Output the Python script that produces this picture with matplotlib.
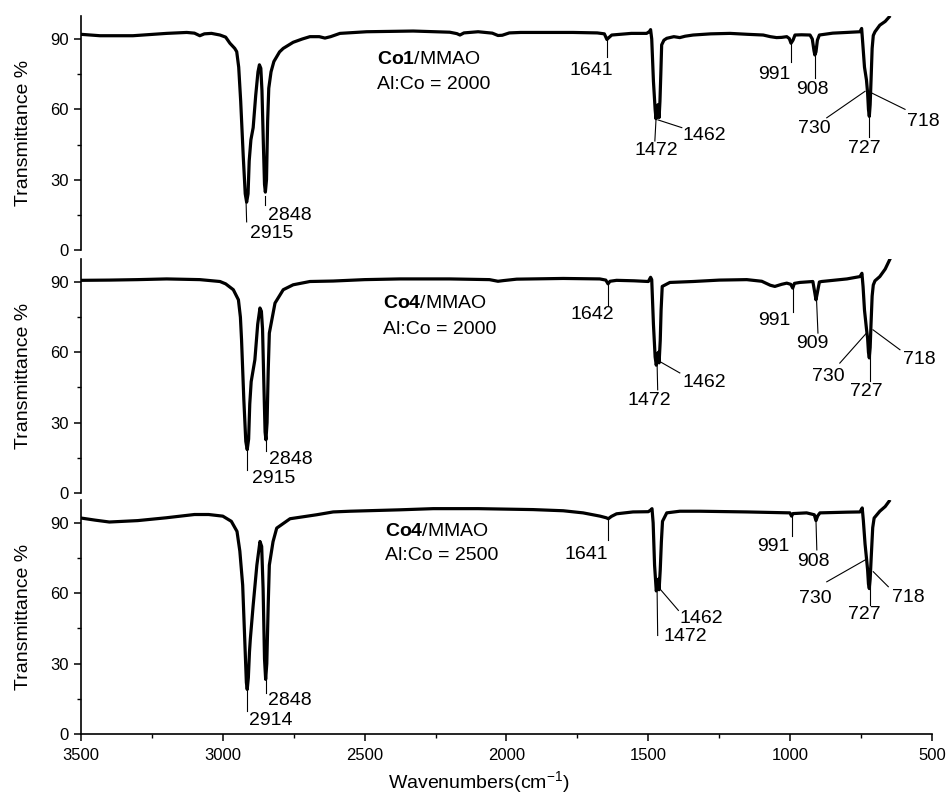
import matplotlib
matplotlib.use("Agg")
import matplotlib.pyplot as plt
from matplotlib.ticker import MultipleLocator

plt.rcParams['font.family'] = ['Liberation Sans', 'DejaVu Sans']
plt.rcParams['mathtext.fontset'] = 'custom'
plt.rcParams['mathtext.rm'] = 'Liberation Sans'
plt.rcParams['mathtext.bf'] = 'Liberation Sans:bold'
plt.rcParams['mathtext.it'] = 'Liberation Sans:italic'

# ---- spectra (wavenumber, transmittance %) ----
wn_co1_2000 = [3500, 3433, 3317, 3198, 3127, 3100, 3081, 3065, 3040, 3010, 2990, 2975, 2958, 2951,
               2944, 2937, 2928, 2921, 2916, 2911, 2907, 2901, 2893, 2884, 2876, 2871, 2866, 2862,
               2857, 2853, 2850, 2846, 2842, 2838, 2830, 2820, 2800, 2787, 2752, 2720, 2693, 2660,
               2640, 2620, 2587, 2493, 2329, 2200, 2175, 2164, 2150, 2100, 2050, 2030, 2015, 1990,
               1950, 1766, 1680, 1655, 1646, 1640, 1629, 1560, 1506, 1496, 1492, 1488, 1482, 1476,
               1473, 1469, 1466, 1462, 1459, 1456, 1453, 1445, 1435, 1410, 1389, 1370, 1342, 1280,
               1212, 1150, 1095, 1070, 1048, 1030, 1012, 1003, 997, 990, 983, 960, 930, 922,
               916, 913, 909, 904, 897, 850, 801, 754, 748, 744, 738, 731, 727, 724,
               721, 718, 715, 711, 707, 701, 684, 665, 651]
tr_co1_2000 = [92.0, 91.4, 91.4, 92.4, 92.8, 92.5, 91.4, 92.2, 92.4, 91.7, 90.8, 88.2, 86.0, 84.6,
               78.0, 63.5, 40.0, 24.0, 20.4, 24.0, 38.0, 47.0, 52.2, 66.0, 76.0, 79.0, 77.5, 68.0,
               45.0, 28.0, 24.7, 30.0, 55.0, 69.0, 76.0, 80.4, 84.5, 86.0, 88.6, 90.0, 91.0, 91.0,
               90.4, 91.0, 92.4, 93.1, 93.4, 92.9, 92.3, 91.7, 92.6, 93.1, 92.5, 91.5, 91.6, 92.6,
               92.8, 92.8, 92.6, 92.2, 89.8, 90.5, 91.7, 92.4, 92.4, 93.2, 94.0, 90.0, 72.0, 60.0,
               56.0, 60.0, 62.0, 56.5, 63.5, 75.0, 87.5, 89.5, 90.3, 91.0, 90.6, 91.2, 91.7, 92.2,
               92.4, 92.0, 91.7, 91.0, 90.6, 90.7, 91.0, 90.2, 88.2, 89.5, 91.7, 91.8, 91.7, 90.0,
               85.0, 83.2, 84.5, 89.5, 91.7, 92.5, 92.8, 93.1, 94.5, 88.0, 78.0, 72.5, 67.0, 60.0,
               57.0, 62.0, 72.0, 86.0, 91.5, 93.1, 95.9, 97.5, 99.4]

wn_co4_2000 = [3500, 3400, 3300, 3198, 3081, 3010, 2990, 2963, 2945, 2938, 2934, 2926, 2919, 2914,
               2909, 2905, 2900, 2887, 2877, 2869, 2864, 2860, 2855, 2851, 2848, 2844, 2840, 2836,
               2816, 2787, 2752, 2693, 2611, 2500, 2376, 2200, 2060, 2030, 2010, 1964, 1800, 1671,
               1650, 1642, 1635, 1612, 1550, 1500, 1492, 1488, 1482, 1476, 1472, 1468, 1465, 1462,
               1458, 1455, 1451, 1424, 1342, 1250, 1153, 1100, 1070, 1054, 1030, 1012, 998, 991,
               985, 966, 920, 914, 909, 904, 897, 889, 800, 754, 747, 743, 738, 731,
               727, 724, 721, 718, 715, 711, 707, 701, 684, 665, 648]
tr_co4_2000 = [90.7, 90.8, 91.0, 91.3, 91.0, 90.2, 89.2, 86.7, 82.4, 75.0, 65.4, 40.0, 22.0, 18.5,
               23.0, 38.0, 47.5, 56.8, 72.0, 78.9, 77.5, 70.0, 45.0, 26.0, 22.7, 30.0, 52.0, 68.2,
               81.0, 86.7, 88.8, 90.2, 90.4, 91.0, 91.3, 91.3, 91.0, 90.3, 90.6, 91.2, 91.5, 91.3,
               90.8, 89.2, 90.3, 90.7, 90.5, 90.2, 92.0, 91.0, 72.0, 58.0, 54.5, 58.0, 60.0, 55.5,
               65.0, 78.0, 88.1, 89.8, 90.2, 90.8, 91.0, 90.3, 88.6, 88.1, 89.0, 89.5, 89.0, 87.4,
               89.4, 89.8, 90.2, 86.0, 82.4, 85.5, 90.0, 90.2, 91.3, 92.3, 93.7, 88.0, 78.0, 70.0,
               66.0, 60.0, 57.6, 62.0, 72.0, 84.0, 88.7, 90.5, 92.3, 95.5, 99.8]

wn_co4_2500 = [3500, 3450, 3400, 3300, 3200, 3100, 3050, 3000, 2970, 2950, 2940, 2930, 2922, 2917,
               2914, 2910, 2906, 2903, 2893, 2880, 2869, 2863, 2858, 2853, 2849, 2845, 2840, 2836,
               2823, 2810, 2763, 2669, 2611, 2552, 2376, 2258, 2100, 1907, 1800, 1730, 1670, 1648,
               1641, 1630, 1612, 1554, 1500, 1492, 1487, 1483, 1478, 1472, 1468, 1465, 1462, 1458,
               1454, 1450, 1435, 1389, 1318, 1153, 1001, 995, 990, 942, 915, 909, 903, 895,
               800, 754, 746, 742, 736, 731, 727, 724, 721, 718, 714, 709, 704, 684,
               665, 651]
tr_co4_2500 = [92.1, 91.2, 90.4, 91.0, 92.2, 93.6, 93.6, 92.9, 90.7, 86.4, 78.0, 63.5, 38.0, 22.0,
               19.0, 24.0, 35.0, 40.5, 54.9, 72.0, 82.1, 80.0, 62.0, 32.0, 23.3, 30.0, 55.0, 72.0,
               82.0, 87.8, 91.8, 93.5, 94.7, 95.0, 95.6, 96.1, 96.1, 95.7, 95.2, 94.3, 92.9, 92.2,
               91.8, 92.8, 93.9, 94.7, 94.8, 95.5, 96.1, 90.0, 72.0, 61.0, 63.0, 66.0, 61.5, 70.0,
               82.0, 90.7, 94.3, 95.0, 95.0, 94.7, 94.3, 92.9, 94.0, 94.3, 93.5, 91.0, 93.0, 94.3,
               94.6, 94.7, 96.4, 91.0, 81.0, 75.0, 70.0, 64.0, 62.0, 66.0, 76.0, 88.0, 92.1, 95.0,
               97.0, 99.3]

sample_names = [r"$\mathbf{Co1}$/MMAO", r"$\mathbf{Co4}$/MMAO", r"$\mathbf{Co4}$/MMAO"]
ratios = ["Al:Co = 2000", "Al:Co = 2000", "Al:Co = 2500"]

labels_co1_2000 = ["2915", "2848", "1641", "1472", "1462", "991", "908", "730", "727", "718"]
labels_co4_2000 = ["2915", "2848", "1642", "1472", "1462", "991", "909", "730", "727", "718"]
labels_co4_2500 = ["2914", "2848", "1641", "1472", "1462", "991", "908", "730", "727", "718"]

# ---- annotation layout: (tip x, tip y, end x, end y, text x, text y, ha, va) ----
L, R, C = 'left', 'right', 'center'
T, M = 'top', 'center_baseline'
layout_co1_2000 = [
    (2918, 20.4, 2916, 12.0, 2904, 10.8, L, T),
    (2853, 23.0, 2853, 19.0, 2841, 18.4, L, T),
    (1647, 90.0, 1647, 82.5, 1625, 80.0, R, T),
    (1473, 55.5, 1477, 46.5, 1471, 46.0, C, T),
    (1466, 55.5, 1382, 52.2, 1378, 49.5, L, M),
    (998, 88.2, 998, 80.4, 998, 78.5, R, T),
    (914, 83.2, 914, 73.3, 920, 72.2, C, T),
    (736, 67.7, 871, 56.4, 858, 52.5, R, M),
    (721, 57.0, 721, 48.0, 738, 46.8, C, T),
    (713, 67.0, 595, 60.0, 589, 55.5, L, M),
]
layout_co4_2000 = [
    (2914, 18.5, 2914, 10.0, 2898, 10.0, L, T),
    (2849, 22.7, 2849, 17.7, 2836, 17.8, L, T),
    (1641, 89.4, 1641, 80.3, 1620, 79.6, R, T),
    (1469, 54.7, 1467, 44.0, 1496, 43.0, C, T),
    (1460, 56.1, 1389, 51.2, 1381, 48.0, L, M),
    (991, 87.4, 991, 77.4, 998, 77.0, R, T),
    (907, 82.4, 902, 68.2, 922, 67.5, C, T),
    (731, 68.2, 825, 55.4, 807, 50.5, R, M),
    (717, 58.3, 717, 47.6, 731, 47.0, C, T),
    (708, 69.6, 613, 61.1, 601, 58.0, L, M),
]
layout_co4_2500 = [
    (2915, 19.0, 2915, 9.7, 2907, 9.4, L, T),
    (2849, 23.3, 2849, 17.6, 2842, 17.8, L, T),
    (1641, 91.8, 1641, 82.8, 1641, 80.2, R, T),
    (1469, 60.6, 1467, 42.0, 1448, 45.0, L, T),
    (1460, 62.0, 1394, 52.7, 1389, 50.0, L, M),
    (995, 92.9, 995, 84.3, 1001, 83.5, R, T),
    (909, 91.0, 906, 78.5, 918, 77.3, C, T),
    (736, 74.2, 871, 64.9, 854, 58.5, R, M),
    (719, 62.8, 719, 54.9, 740, 54.4, C, T),
    (707, 69.2, 654, 62.8, 642, 59.0, L, M),
]

panels = [
    (wn_co1_2000, tr_co1_2000, labels_co1_2000, layout_co1_2000, (2457, 79.3, 68.8)),
    (wn_co4_2000, tr_co4_2000, labels_co4_2000, layout_co4_2000, (2436, 79.0, 67.9)),
    (wn_co4_2500, tr_co4_2500, labels_co4_2500, layout_co4_2500, (2428, 84.4, 74.1)),
]

fig = plt.figure(figsize=(9.46, 7.94), dpi=100)
bottoms = [0.6851, 0.3791, 0.0756]
left, width, height = 0.0856, 0.8996, 0.2953

for i, (wn, tr, labels, layout, (tx, ty1, ty2)) in enumerate(panels):
    ax = fig.add_axes([left, bottoms[i], width, height])
    ax.plot(wn, tr, color='black', lw=2.3, solid_joinstyle='round')
    ax.set_xlim(3500, 500)
    ax.set_ylim(0, 100)
    ax.set_yticks([0, 30, 60, 90])
    ax.yaxis.set_minor_locator(MultipleLocator(15))
    ax.tick_params(axis='y', which='major', direction='out', length=5, width=1.1,
                   labelsize=12, pad=4)
    ax.tick_params(axis='y', which='minor', direction='out', length=3, width=1.0)
    for side in ['top', 'right']:
        ax.spines[side].set_visible(False)
    ax.spines['left'].set_linewidth(1.2)
    ax.set_ylabel("Transmittance %", fontsize=14)
    ax.yaxis.set_label_coords(-0.058, 0.5)

    if i < 2:
        ax.spines['bottom'].set_visible(False)
        ax.set_xticks([])
    else:
        ax.spines['bottom'].set_linewidth(1.2)
        ax.set_xticks([3500, 3000, 2500, 2000, 1500, 1000, 500])
        ax.xaxis.set_minor_locator(MultipleLocator(250))
        ax.tick_params(axis='x', which='major', direction='out', length=5, width=1.1,
                       labelsize=12, pad=5)
        ax.tick_params(axis='x', which='minor', direction='out', length=3, width=1.0)
        ax.set_xlabel("Wavenumbers(cm$^{-1}$)", fontsize=14)
        ax.xaxis.set_label_coords(0.4677, -0.150)

    ax.text(tx, ty1, sample_names[i], fontsize=14, ha='left', va='baseline')
    ax.text(tx, ty2, ratios[i], fontsize=14, ha='left', va='baseline')

    for lab, (x0, y0, x1, y1, xt, yt, ha, va) in zip(labels, layout):
        ax.plot([x0, x1], [y0, y1], color='black', lw=0.8)
        ax.text(xt, yt, lab, fontsize=14, ha=ha, va=va)

fig.savefig("out.png", dpi=100)
